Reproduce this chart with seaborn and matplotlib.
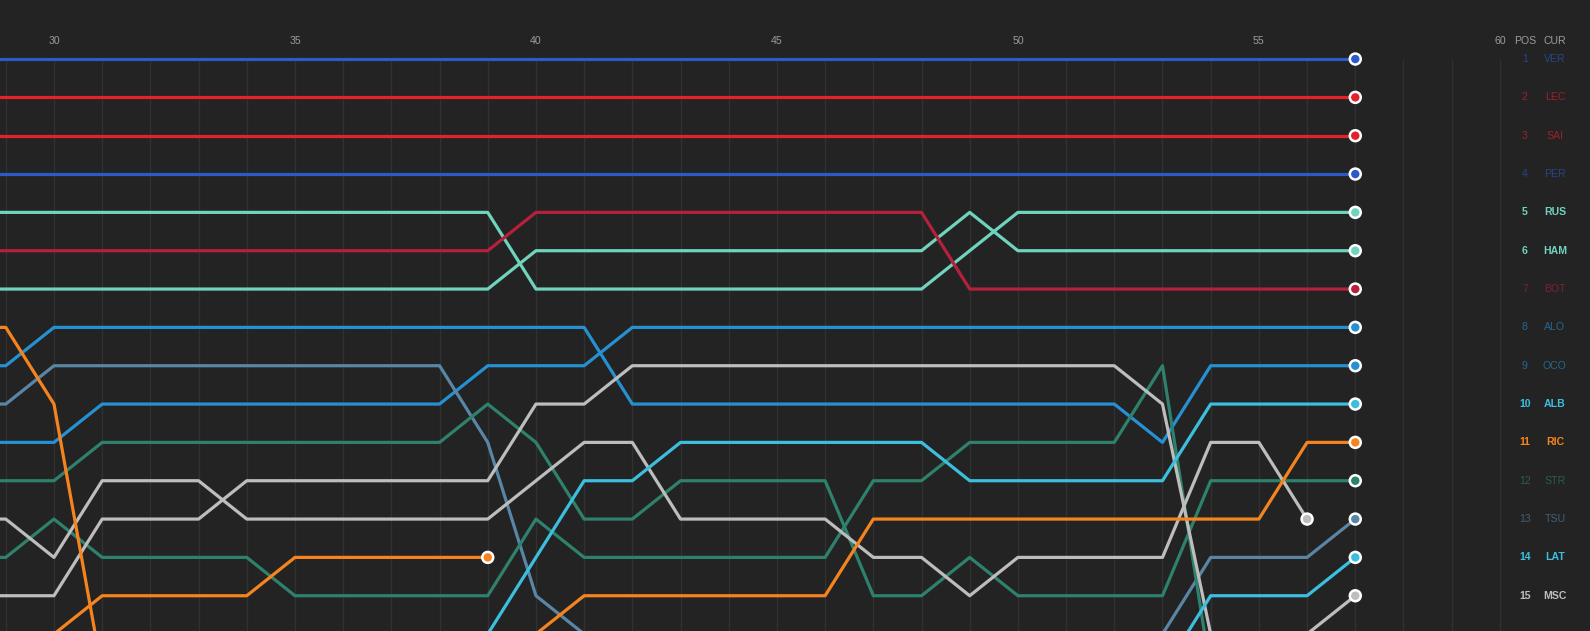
import matplotlib
matplotlib.use("Agg")
import matplotlib.pyplot as plt
import pandas as pd
import seaborn as sns

# ---------------- data ----------------
laps = [28, 29, 30, 31, 32, 33, 34, 35, 36, 37, 38, 39, 40, 41, 42,
        43, 44, 45, 46, 47, 48, 49, 50, 51, 52, 53, 54, 55, 56, 57]

VER = [1, 1, 1, 1, 1, 1, 1, 1, 1, 1, 1, 1, 1, 1, 1, 1, 1, 1, 1, 1, 1, 1, 1, 1, 1, 1, 1, 1, 1, 1]
LEC = [2, 2, 2, 2, 2, 2, 2, 2, 2, 2, 2, 2, 2, 2, 2, 2, 2, 2, 2, 2, 2, 2, 2, 2, 2, 2, 2, 2, 2, 2]
SAI = [3, 3, 3, 3, 3, 3, 3, 3, 3, 3, 3, 3, 3, 3, 3, 3, 3, 3, 3, 3, 3, 3, 3, 3, 3, 3, 3, 3, 3, 3]
PER = [4, 4, 4, 4, 4, 4, 4, 4, 4, 4, 4, 4, 4, 4, 4, 4, 4, 4, 4, 4, 4, 4, 4, 4, 4, 4, 4, 4, 4, 4]
RUS = [5, 5, 5, 5, 5, 5, 5, 5, 5, 5, 5, 5, 7, 7, 7, 7, 7, 7, 7, 7, 7, 6, 5, 5, 5, 5, 5, 5, 5, 5]
HAM = [7, 7, 7, 7, 7, 7, 7, 7, 7, 7, 7, 7, 6, 6, 6, 6, 6, 6, 6, 6, 6, 5, 6, 6, 6, 6, 6, 6, 6, 6]
BOT = [6, 6, 6, 6, 6, 6, 6, 6, 6, 6, 6, 6, 5, 5, 5, 5, 5, 5, 5, 5, 5, 7, 7, 7, 7, 7, 7, 7, 7, 7]
ALO = [11, 11, 11, 10, 10, 10, 10, 10, 10, 10, 10, 9, 9, 9, 8, 8, 8, 8, 8, 8, 8, 8, 8, 8, 8, 8, 8, 8, 8, 8]
OCO = [9, 9, 8, 8, 8, 8, 8, 8, 8, 8, 8, 8, 8, 8, 10, 10, 10, 10, 10, 10, 10, 10, 10, 10, 10, 11, 9, 9, 9, 9]
TSU = [10, 10, 9, 9, 9, 9, 9, 9, 9, 9, 9, 11, 15, 16, 17, 17, 17, 17, 17, 17, 17, 17, 17, 17, 17, 16, 14, 14, 14, 13]
STR = [12, 12, 12, 11, 11, 11, 11, 11, 11, 11, 11, 10, 11, 13, 13, 12, 12, 12, 12, 15, 15, 14, 15, 15, 15, 15, 12, 12, 12, 12]
VET = [14, 14, 13, 14, 14, 14, 14, 15, 15, 15, 15, 15, 13, 14, 14, 14, 14, 14, 14, 12, 12, 11, 11, 11, 11, 9, 17]
MAG = [13, 13, 14, 12, 12, 12, 13, 13, 13, 13, 13, 13, 12, 11, 11, 13, 13, 13, 13, 14, 14, 15, 14, 14, 14, 14, 11, 11, 13]
MSC = [15, 15, 15, 13, 13, 13, 12, 12, 12, 12, 12, 12, 10, 10, 9, 9, 9, 9, 9, 9, 9, 9, 9, 9, 9, 10, 16, 16, 16, 15]
ALB = [17, 17, 17, 17, 17, 17, 17, 17, 17, 17, 17, 16, 14, 12, 12, 11, 11, 11, 11, 11, 11, 12, 12, 12, 12, 12, 10, 10, 10, 10]
LAT = [17, 17, 17, 17, 17, 17, 17, 17, 17, 17, 17, 17, 17, 17, 17, 17, 17, 17, 17, 17, 17, 17, 17, 17, 17, 17, 15, 15, 15, 14]
RIC = [8, 8, 10, 17, 17, 17, 17, 17, 17, 17, 17, 17, 16, 15, 15, 15, 15, 15, 15, 13, 13, 13, 13, 13, 13, 13, 13, 13, 11, 11]
NOR = [17, 17, 16, 15, 15, 15, 15, 14, 14, 14, 14, 14]

drivers = ["VER", "LEC", "SAI", "PER", "RUS", "HAM", "BOT", "ALO", "OCO", "TSU",
           "STR", "VET", "MAG", "MSC", "ALB", "LAT", "RIC", "NOR"]
series = [VER, LEC, SAI, PER, RUS, HAM, BOT, ALO, OCO, TSU,
          STR, VET, MAG, MSC, ALB, LAT, RIC, NOR]
colors = ["#2C5BC9", "#E3222A", "#E3222A", "#2C5BC9", "#6FD3BE", "#6FD3BE", "#B5213B",
          "#2591D2", "#2591D2", "#5A86A5", "#2E816C", "#2E816C", "#BDBDBD", "#BDBDBD",
          "#3CBFDF", "#3CBFDF", "#F5841F", "#F5841F"]

final_pos = [1, 2, 3, 4, 5, 6, 7, 8, 9, 10, 11, 12, 13, 14, 15]
final_code = ["VER", "LEC", "SAI", "PER", "RUS", "HAM", "BOT", "ALO", "OCO",
              "ALB", "RIC", "STR", "TSU", "LAT", "MSC"]
final_highlight = [0, 0, 0, 0, 1, 1, 0, 0, 0, 1, 1, 0, 0, 1, 1]

tick_laps = [30, 35, 40, 45, 50, 55, 60]
grid_laps = list(range(29, 61))

# ---------------- build frame ----------------
rows = []
for d, vals in zip(drivers, series):
    for lap, p in zip(laps, vals):
        rows.append({"driver": d, "lap": lap, "pos": p})
df = pd.DataFrame(rows)
palette = dict(zip(drivers, colors))

# ---------------- style ----------------
BG = "#232323"
sns.set_theme(style="dark")
plt.rcParams["font.family"] = ["Liberation Sans", "DejaVu Sans"]

fig = plt.figure(figsize=(15.9, 6.31), dpi=100, facecolor=BG)
ax = fig.add_axes([0, 0, 1, 1])
ax.set_facecolor(BG)

# vertical lap grid
ax.vlines(grid_laps, ymin=1, ymax=18, color="#313131", linewidth=1.0, zorder=0)

sns.lineplot(data=df, x="lap", y="pos", hue="driver", hue_order=drivers,
             palette=palette, estimator=None, sort=True, linewidth=2.3,
             legend=False, ax=ax, zorder=2)

# end dots
last = df.groupby("driver", sort=False).tail(1)
sns.scatterplot(data=last, x="lap", y="pos", hue="driver", hue_order=drivers,
                palette=palette, s=62, edgecolor="white", linewidth=1.8,
                legend=False, ax=ax, zorder=4)

# lap labels on top
label_y = 0.53
for t in tick_laps:
    ax.text(t, label_y, str(t), color="#9c9c9c", fontsize=7.6,
            ha="center", va="center")
ax.text(60.52, label_y, "POS", color="#9c9c9c", fontsize=7.6, ha="center", va="center")
ax.text(61.14, label_y, "CUR", color="#9c9c9c", fontsize=7.6, ha="center", va="center")

# right-side position list
for p, code, hl in zip(final_pos, final_code, final_highlight):
    c = palette[code]
    a = 1.0 if hl else 0.62
    w = "bold" if hl else "normal"
    ax.text(60.52, p, str(p), color=c, alpha=a, fontsize=7.6, fontweight=w,
            ha="center", va="center")
    ax.text(61.14, p, code, color=c, alpha=a, fontsize=7.6, fontweight=w,
            ha="center", va="center")

ax.set_xlim(28.88, 61.87)
ax.set_ylim(15.92, -0.54)
ax.set_xticks([])
ax.set_yticks([])
ax.set_xlabel("")
ax.set_ylabel("")
for s in ax.spines.values():
    s.set_visible(False)
ax.grid(False)

fig.savefig("out.png", dpi=100, facecolor=BG)
